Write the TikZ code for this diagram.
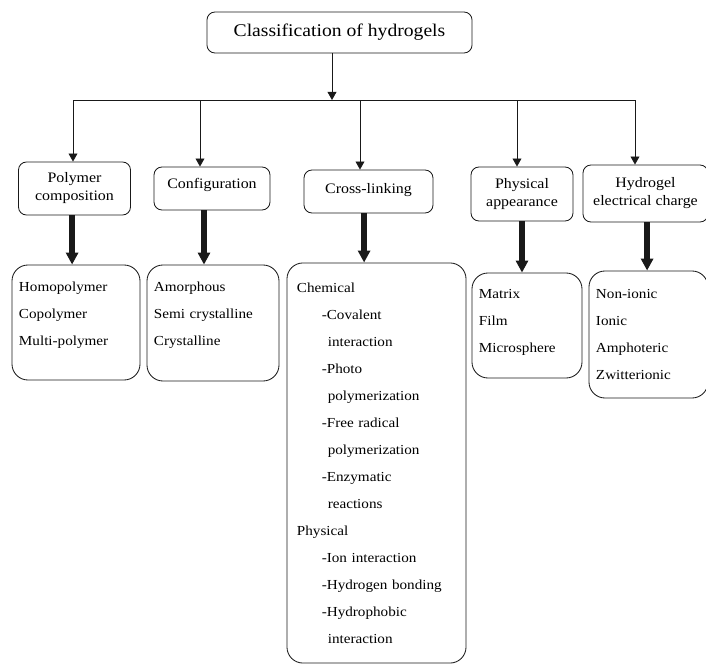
\documentclass[tikz,border=0pt]{standalone}
\usepackage{fontspec}
\setmainfont[FakeStretch=1.1]{Liberation Serif}
\usepackage{tikz}
\usetikzlibrary{arrows.meta, positioning}
\definecolor{hgdark}{RGB}{25,25,25}
\tikzset{
  titlebox/.style={rectangle, draw=hgdark, rounded corners=0.2cm,
    line width=0.6pt, minimum width=6.625cm, minimum height=1.025cm,
    font=\fontsize{12.7}{14}\selectfont},
  catbox/.style={rectangle, draw=hgdark, rounded corners=0.2cm,
    line width=0.6pt, align=center, inner sep=0pt,
    font=\fontsize{10.3}{12.8}\selectfont},
  itembox/.style={rectangle, draw=hgdark, rounded corners=0.4cm,
    line width=0.6pt, align=left, inner xsep=0.175cm, inner ysep=0pt,
    font=\fontsize{9.8}{19.2}\selectfont},
  arrow/.style={-{Triangle[length=0.2cm, width=0.22cm]}, line width=0.6pt, color=hgdark},
  fatarrow/.style={-{Triangle[length=0.3cm, width=0.3cm]}, line width=3.8pt, color=hgdark},
  line/.style={line width=0.6pt, color=hgdark}
}
\newcommand{\indA}{\hspace*{0.62cm}}
\newcommand{\indB}{\hspace*{0.77cm}}

\begin{document}
\begin{tikzpicture}[x=0.025cm, y=-0.025cm]
  \useasboundingbox (0,0) rectangle (706,664);

  % Root
  \node[titlebox] (title) at (339.5,32.5) {Classification of hydrogels};

  % Classes
  \node[catbox, minimum width=2.8cm, minimum height=1.325cm] (c1) at (74.5,188.5) {Polymer\\composition};
  \node[catbox, minimum width=2.9cm, minimum height=1.075cm] (c2) at (212,188.5) {Configuration\rule[-0.25cm]{0pt}{0pt}};
  \node[catbox, minimum width=3.225cm, minimum height=1.075cm] (c3) at (368.5,191.5) {Cross-linking\rule[-0.15cm]{0pt}{0pt}};
  \node[catbox, minimum width=2.55cm, minimum height=1.35cm] (c4) at (522,194) {Physical\\appearance};
  \node[catbox, minimum width=3.125cm, minimum height=1.425cm] (c5) at (645.5,193.5) {Hydrogel\\electrical charge};

  % Members
  \node[itembox, text width=2.85cm, minimum height=2.875cm] (i1) at (76,322.5)
    {Homopolymer\\Copolymer\\Multi-polymer\rule[-0.425cm]{0pt}{0pt}};
  \node[itembox, text width=2.95cm, minimum height=2.9cm] (i2) at (213,323)
    {Amorphous\\Semi crystalline\\Crystalline\rule[-0.45cm]{0pt}{0pt}};
  \node[itembox, inner xsep=0.25cm, text width=3.975cm, minimum height=10cm] (i3) at (376.5,463)
    {Chemical\\
     \indA-Covalent\\
     \indB interaction\\
     \indA-Photo\\
     \indB polymerization\\
     \indA-Free radical\\
     \indB polymerization\\
     \indA-Enzymatic\\
     \indB reactions\\
     Physical\\
     \indA-Ion interaction\\
     \indA-Hydrogen bonding\\
     \indA-Hydrophobic\\
     \indB interaction};
  \node[itembox, text width=2.4cm, minimum height=2.625cm] (i4) at (527,325.5)
    {Matrix\\Film\\Microsphere\rule[-0.25cm]{0pt}{0pt}};
  \node[itembox, text width=2.625cm, minimum height=3.175cm] (i5) at (648.5,334.5)
    {Non-ionic\\Ionic\\Amphoteric\\Zwitterionic};

  % Bus
  \coordinate (b0) at (332,100);
  \coordinate (b1) at (73,100);
  \coordinate (b2) at (200,100);
  \coordinate (b3) at (360,100);
  \coordinate (b4) at (517,100);
  \coordinate (b5) at (635,100);
  \draw[line] (b1) -- (b5);
  \draw[arrow] (title.south -| b0) -- (b0);
  \draw[arrow] (b1) -- (b1 |- c1.north);
  \draw[arrow] (b2) -- (b2 |- c2.north);
  \draw[arrow] (b3) -- (b3 |- c3.north);
  \draw[arrow] (b4) -- (b4 |- c4.north);
  \draw[arrow] (b5) -- (b5 |- c5.north);

  % Class to members
  \draw[fatarrow] ([xshift=-0.06cm]c1.south) -- ([xshift=-0.06cm]c1.south |- i1.north);
  \draw[fatarrow] ([xshift=-0.2cm]c2.south) -- ([xshift=-0.2cm]c2.south |- i2.north);
  \draw[fatarrow] ([xshift=-0.11cm]c3.south) -- ([xshift=-0.11cm]c3.south |- i3.north);
  \draw[fatarrow] (c4.south) -- (c4.south |- i4.north);
  \draw[fatarrow] ([xshift=0.04cm]c5.south) -- ([xshift=0.04cm]c5.south |- i5.north);

\end{tikzpicture}
\end{document}
